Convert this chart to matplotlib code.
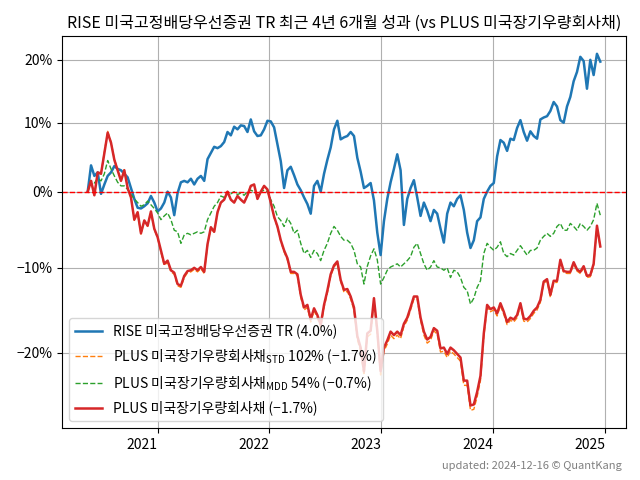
import matplotlib
matplotlib.use("Agg")
import matplotlib.pyplot as plt
import matplotlib.dates as mdates
import matplotlib.ticker as mticker
import numpy as np
import pandas as pd

plt.rcParams['font.family'] = ['Noto Sans CJK KR', 'DejaVu Sans']
plt.rcParams['mathtext.fontset'] = 'custom'
plt.rcParams['mathtext.rm'] = 'Noto Sans CJK KR'
plt.rcParams['axes.unicode_minus'] = True

# cumulative return (%) sampled about every 11 days, 2020-05-18 .. 2024-12-16
dates = pd.date_range("2020-05-18", "2024-12-16", periods=155)

rise = [0, 3.7, 2.2, 2.7, -0.3, 1.0, 2.2, 2.7, 3.6, 3.2,
        3.0, 2.5, 2.0, 0.5, -1.0, -2.2, -2.3, -2.0, -1.6, -0.6,
        -1.5, -2.7, -2.3, -1.5, 0.0, -0.8, -3.2, -0.2, 1.3, 1.5,
        1.3, 1.8, 1.0, 1.8, 2.2, 1.5, 4.6, 5.5, 6.4, 6.2,
        6.5, 7.1, 8.6, 8.1, 9.4, 9.0, 9.6, 9.5, 8.6, 10.5,
        8.7, 8.0, 8.1, 9.0, 10.3, 10.2, 9.3, 6.8, 4.3, 0.5,
        3.0, 3.5, 2.3, 1.0, 0.2, -0.8, -1.7, -3.0, 0.8, 1.5,
        0.0, 2.5, 4.5, 6.3, 9.0, 10.3, 7.5, 7.8, 8.0, 8.6,
        8.0, 4.8, 2.8, 0.5, 0.8, 1.2, -1.2, -5.5, -8.4, -4.0,
        -1.0, 1.3, 3.2, 5.3, 3.0, -4.5, -1.0, 0.5, 1.6, -0.8,
        -3.3, -1.5, -2.6, -4.0, -2.5, -3.0, -5.0, -6.8, -3.0, -1.5,
        -2.0, -1.0, -0.5, -2.5, -5.5, -7.5, -6.5, -4.0, -3.5, -1.0,
        0.0, 0.8, 1.2, 5.0, 7.4, 7.0, 5.8, 7.6, 7.4, 9.2,
        10.4, 8.6, 7.3, 8.7, 8.0, 7.6, 10.5, 10.8, 11.0, 11.8,
        13.2, 12.5, 10.4, 10.0, 12.5, 14.0, 16.5, 18.0, 20.5, 19.8,
        15.3, 20.0, 17.5, 21.0, 19.7]

plus = [0, 1.5, -0.5, 2.7, 2.5, 5.5, 8.5, 7.0, 4.5, 3.0,
        1.5, 3.0, 0.5, -0.8, -3.8, -2.8, -5.6, -3.9, -4.6, -2.7,
        -5.0, -6.1, -7.8, -9.5, -9.1, -10.3, -10.6, -12.0, -12.2, -11.0,
        -10.4, -10.3, -10.0, -10.3, -9.9, -10.5, -7.0, -4.8, -5.4, -2.8,
        -1.5, -1.1, 0.0, -1.1, -1.5, -0.6, -1.1, -1.5, -0.5, 0.8,
        1.0, -1.0, 0.0, 0.8, 0.3, -1.5, -3.4, -4.7, -6.5, -7.8,
        -8.8, -10.5, -10.5, -10.8, -13.3, -14.8, -14.5, -16.2, -14.9, -15.7,
        -16.8, -14.5, -12.8, -10.8, -9.7, -9.2, -11.5, -12.7, -12.6, -13.5,
        -14.8, -18.1, -19.4, -22.0, -17.8, -17.5, -13.7, -17.5, -22.0, -19.4,
        -18.6, -17.6, -18.0, -17.6, -18.0, -16.7, -16.0, -14.8, -13.5, -13.5,
        -16.0, -17.6, -18.5, -18.2, -17.2, -17.5, -19.5, -19.4, -20.1, -19.4,
        -19.7, -20.1, -20.5, -23.0, -23.0, -25.6, -25.5, -24.2, -22.5, -17.8,
        -14.5, -15.0, -14.8, -15.5, -14.3, -15.3, -16.5, -16.0, -16.2, -15.7,
        -14.3, -16.1, -16.2, -15.8, -15.2, -14.8, -13.9, -11.7, -11.4, -13.3,
        -11.6, -11.6, -9.0, -10.4, -10.5, -10.5, -9.3, -10.2, -10.5, -9.8,
        -11.0, -10.9, -9.5, -4.6, -7.3]

plus_std = [0, 1.5, -0.5, 2.8, 2.6, 5.6, 8.7, 7.1, 4.6, 3.1,
            1.5, 3.1, 0.5, -0.8, -3.9, -2.9, -5.7, -4.0, -4.7, -2.8,
            -5.1, -6.2, -8.0, -9.7, -9.3, -10.5, -10.8, -12.2, -12.4, -11.2,
            -10.6, -10.5, -10.2, -10.5, -10.1, -10.7, -7.1, -4.9, -5.5, -2.9,
            -1.5, -1.1, 0.0, -1.1, -1.5, -0.6, -1.1, -1.5, -0.5, 0.8,
            1.0, -1.0, 0.0, 0.8, 0.3, -1.5, -3.5, -4.8, -6.6, -8.0,
            -9.0, -10.7, -10.7, -11.0, -13.6, -15.1, -14.8, -16.5, -15.2, -16.0,
            -17.1, -14.8, -13.1, -11.0, -9.9, -9.4, -11.7, -13.0, -12.9, -13.8,
            -15.1, -18.5, -19.8, -22.4, -18.2, -17.9, -14.0, -17.9, -22.4, -19.8,
            -19.0, -18.0, -18.4, -18.0, -18.4, -17.0, -16.3, -15.1, -13.8, -13.8,
            -16.3, -18.0, -18.9, -18.6, -17.5, -17.9, -19.9, -19.8, -20.5, -19.8,
            -20.1, -20.5, -20.9, -23.5, -23.5, -26.1, -26.0, -24.7, -23.0, -18.2,
            -14.8, -15.3, -15.1, -15.8, -14.6, -15.6, -16.8, -16.3, -16.5, -16.0,
            -14.6, -16.4, -16.5, -16.1, -15.5, -15.1, -14.2, -11.9, -11.6, -13.6,
            -11.8, -11.8, -9.2, -10.6, -10.7, -10.7, -9.5, -10.4, -10.7, -10.0,
            -11.2, -11.1, -9.7, -4.7, -7.4]

plus_mdd = [0, 1.5, 1.2, 1.8, 1.5, 2.5, 4.4, 3.2, 2.2, 1.3,
            0.8, 0.8, 0.3, -0.4, -1.0, -1.5, -2.0, -1.8, -1.3, -1.8,
            -2.3, -2.9, -3.8, -3.3, -2.9, -3.8, -5.2, -5.4, -6.9, -5.8,
            -5.6, -5.8, -5.6, -5.4, -5.6, -5.4, -3.8, -2.9, -2.0, -1.5,
            -0.6, -0.8, 0.0, -0.3, 0.0, -0.4, -0.2, -0.5, 0.0, 0.2,
            0.0, -0.5, 0.0, 0.2, 0.0, -1.1, -2.0, -3.4, -3.9, -4.7,
            -3.6, -4.3, -5.6, -5.2, -6.9, -8.2, -7.8, -8.7, -7.8, -8.2,
            -9.1, -7.8, -6.9, -5.6, -4.7, -5.2, -6.0, -6.5, -6.5, -6.9,
            -7.8, -9.5, -9.9, -12.0, -9.8, -8.5, -7.6, -9.0, -12.0, -11.2,
            -10.3, -9.9, -9.7, -9.5, -9.9, -9.5, -9.1, -8.6, -7.4, -6.9,
            -8.2, -9.5, -10.3, -9.9, -9.1, -9.9, -10.0, -10.3, -10.0, -11.2,
            -10.3, -10.5, -11.2, -12.4, -12.8, -14.4, -13.7, -12.4, -11.6, -8.2,
            -6.9, -7.4, -7.8, -7.4, -6.7, -8.2, -8.6, -8.2, -8.4, -7.8,
            -7.2, -7.8, -8.4, -7.8, -7.8, -7.5, -6.5, -6.0, -5.6, -6.0,
            -5.6, -4.7, -4.3, -5.2, -5.2, -4.3, -4.7, -5.2, -4.3, -4.7,
            -5.2, -4.7, -3.8, -1.6, -3.2]

labels = ["RISE 미국고정배당우선증권 TR (4.0%)",
          "PLUS 미국장기우량회사채$_{\\mathrm{STD}}$ 102% (\u22121.7%)",
          "PLUS 미국장기우량회사채$_{\\mathrm{MDD}}$ 54% (\u22120.7%)",
          "PLUS 미국장기우량회사채 (\u22121.7%)"]
yticks = [0.8, 0.9, 1.0, 1.1, 1.2]


def growth(vals):
    return 1 + np.array(vals) / 100


fig, ax = plt.subplots(figsize=(6.4, 4.8), dpi=100)
fig.subplots_adjust(left=0.097, right=0.978, top=0.925, bottom=0.108)

ax.plot(dates, growth(rise), color="#1f77b4", lw=1.8, label=labels[0])
ax.plot(dates, growth(plus_std), color="#ff7f0e", lw=1.0, ls="--", label=labels[1])
ax.plot(dates, growth(plus_mdd), color="#2ca02c", lw=1.0, ls="--", label=labels[2])
ax.plot(dates, growth(plus), color="#d62728", lw=1.8, label=labels[3])
ax.axhline(1.0, color="red", ls="--", lw=1.0)

ax.set_yscale("log")
ax.yaxis.set_major_locator(mticker.FixedLocator(yticks))
ax.yaxis.set_minor_locator(mticker.NullLocator())
ax.yaxis.set_major_formatter(mticker.FuncFormatter(
    lambda v, p: f"{(v - 1) * 100:.0f}%".replace("-", "\u2212")))

ax.xaxis.set_major_locator(mdates.YearLocator())
ax.xaxis.set_major_formatter(mdates.DateFormatter("%Y"))
for lbl in ax.get_xticklabels():
    lbl.set_ha("right")

ax.grid(True, color="#b0b0b0", lw=0.8)
ax.tick_params(labelsize=10)
ax.set_title("RISE 미국고정배당우선증권 TR 최근 4년 6개월 성과 (vs PLUS 미국장기우량회사채)",
             fontsize=11.5)
ax.legend(loc="lower left", fontsize=10, labelspacing=0.6)

fig.text(0.972, 0.022, "updated: 2024-12-16 © QuantKang", ha="right",
         color="gray", fontsize=8)

fig.savefig("out.png")
